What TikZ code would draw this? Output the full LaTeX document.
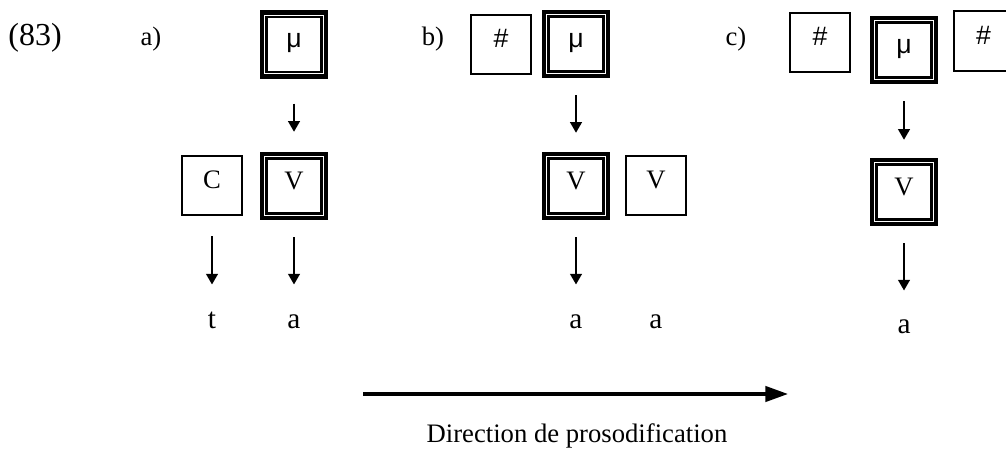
\documentclass[tikz,border=0pt]{standalone}
\usepackage{fontspec}
\setmainfont{Liberation Serif}
\newfontfamily\symfont{Liberation Sans}
\usetikzlibrary{arrows.meta}
\tikzset{
  boxtext/.style={inner sep=0pt, text height=0.72em, text depth=0.24em, align=center},
  plainbox/.style={boxtext, draw, line width=1.3pt, minimum size=44.6pt},
  tribox/.style={boxtext, draw, line width=3.2pt, minimum size=48pt,
    path picture={\draw[line width=1.6pt]
      ([shift={(3.4pt,-3.4pt)}]path picture bounding box.north west) rectangle
      ([shift={(-3.4pt,3.4pt)}]path picture bounding box.south east);}},
  serif20/.style={font=\fontsize{20}{24}\selectfont},
  sym20/.style={font=\symfont\fontsize{20}{24}\selectfont},
  lab/.style={inner sep=0pt, anchor=base, text height=0.46em, text depth=0pt, font=\fontsize{22}{26}\selectfont},
  tag/.style={inner sep=0pt, anchor=base, font=\fontsize{20}{24}\selectfont},
  arr/.style={line width=2.2pt, -{Triangle[width=8.5pt,length=8pt]}},
  bigarr/.style={line width=2.5pt, -{Triangle[width=11.5pt,length=17pt]}}
}
\begin{document}
\begin{tikzpicture}[x=0.75pt,y=-0.75pt]
\useasboundingbox (0,0) rectangle (1006,452);
\clip (0,0) rectangle (1006,452);
\fill[white] (0,0) rectangle (1006,452);

% labels
\node[tag, font=\fontsize{24}{28}\selectfont] (n83) at (35,46) {(83)};
\node[tag] (ta) at (151,46) {a)};
\node[tag] (tb) at (433,46) {b)};
\node[tag] (tc) at (736,46) {c)};

% ---------- a)
\node[tribox, sym20] (mua) at (294,44.5) {μ};
\node[tribox, serif20] (va) at (294,186) {V};
\node[plainbox, serif20] (ca) at (212,185.5) {C};
\node[lab] (lt) at (212,328) {t};
\node[lab] (laa) at (294,328) {a};
\draw[arr, shorten <=18.75pt, shorten >=15pt] (mua.south) -- (va.north);
\draw[arr, shorten <=15pt, shorten >=27.75pt] (ca.south) -- (lt.north);
\draw[arr, shorten <=12.75pt, shorten >=27.75pt] (va.south) -- (laa.north);

% ---------- b)
\node[plainbox, sym20] (hb) at (501,44.5) {\#};
\node[tribox, sym20] (mub) at (576,44) {μ};
\node[tribox, serif20] (vb) at (576,186) {V};
\node[plainbox, serif20] (vvb) at (656,185.5) {V};
\node[lab] (lab1) at (576,328) {a};
\node[lab] (lab2) at (656,328) {a};
\draw[arr, shorten <=12.75pt, shorten >=14.25pt] (mub.south) -- (vb.north);
\draw[arr, shorten <=12.75pt, shorten >=27.75pt] (vb.south) -- (lab1.north);

% ---------- c)
\node[plainbox, sym20] (hc1) at (820,42.5) {\#};
\node[tribox, sym20] (muc) at (904,50) {μ};
\node[plainbox, sym20] (hc2) at (983.5,41) {\#};
\node[tribox, serif20] (vc) at (904,192) {V};
\node[lab] (lac) at (904,333) {a};
\draw[arr, shorten <=12.75pt, shorten >=13.5pt] (muc.south) -- (vc.north);
\draw[arr, shorten <=12.75pt, shorten >=27pt] (vc.south) -- (lac.north);

% ---------- direction arrow
\coordinate (ds) at (363,394);
\coordinate (de) at (788,394);
\draw[bigarr] (ds) -- (de);
\node[inner sep=0pt, font=\fontsize{20}{24}\selectfont] (dir) at (577,436) {Direction de prosodification};
\end{tikzpicture}
\end{document}
